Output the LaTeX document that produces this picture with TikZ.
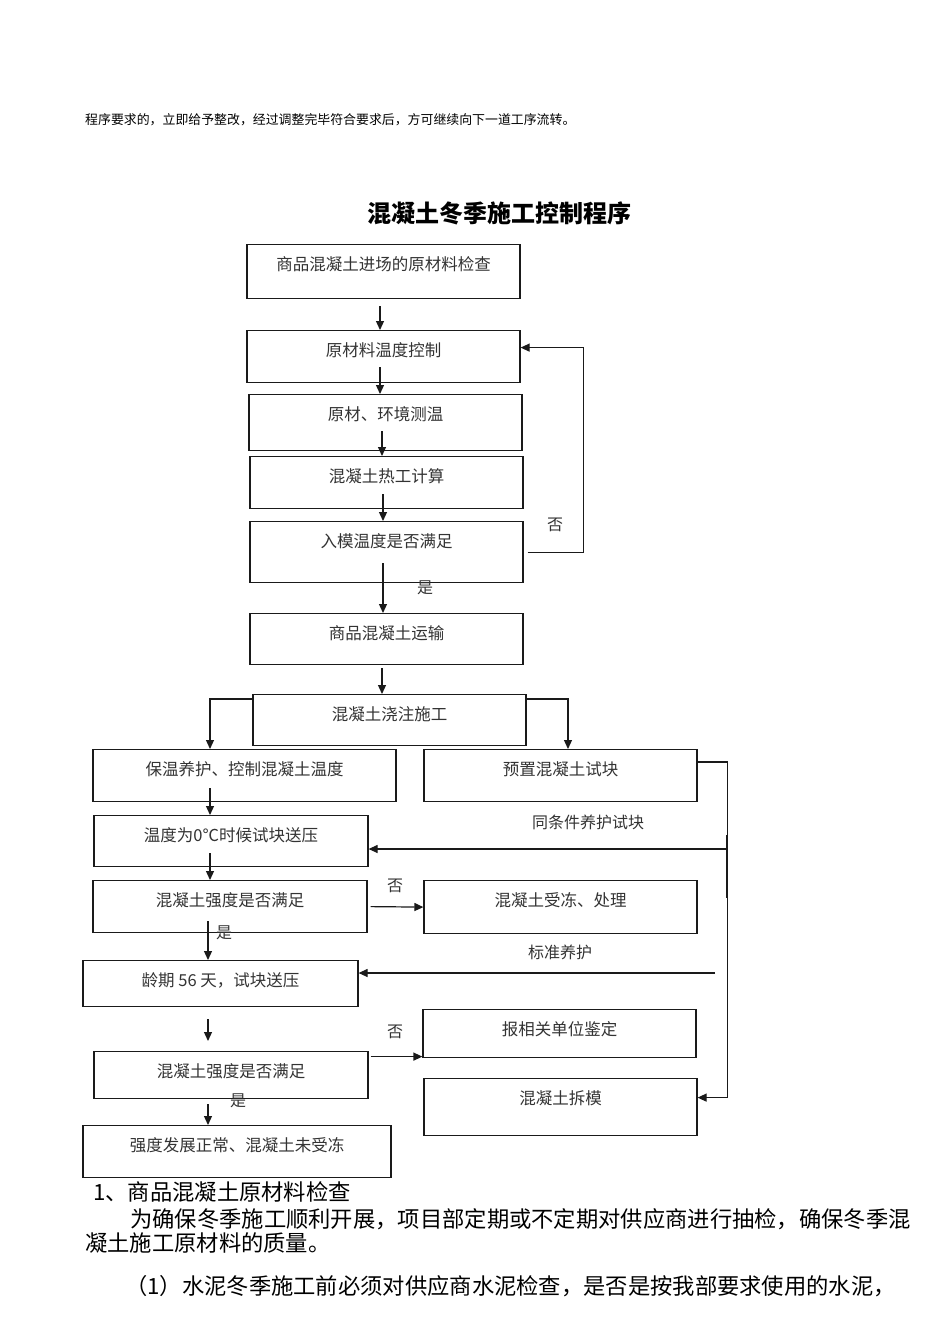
\documentclass[tikz,border=0pt]{standalone}
\usepackage{fontspec}
\setmainfont{Noto Sans CJK SC}
\definecolor{ink}{HTML}{1A1A1A}
\definecolor{txt}{HTML}{333333}
\usetikzlibrary{arrows.meta}

\begin{document}
\begin{tikzpicture}[x=1pt,y=-1pt,>={Triangle[length=9pt,width=8pt]},
  box/.style={draw=ink,line width=1.2pt,rectangle,inner sep=0pt,anchor=north,minimum width=273pt,text height=26pt,text depth=#1,font=\fontsize{16.5}{18}\selectfont,text=txt},
  lbl/.style={font=\fontsize{16}{18}\selectfont,text=txt,inner sep=0pt},
  body/.style={font=\fontsize{22.3}{26}\selectfont,anchor=west,inner sep=0pt},
  arr/.style={->,ink,line width=1.2pt}]
\useasboundingbox (0,0) rectangle (950,1344);
\node[anchor=west,inner sep=0pt,font=\fontsize{12.9}{14}\selectfont] (head) at (85,120) {程序要求的，立即给予整改，经过调整完毕符合要求后，方可继续向下一道工序流转。};
\node[inner sep=0pt,font=\fontsize{24}{28}\selectfont\bfseries] (title) at (499,213) {混凝土冬季施工控制程序};
\node[box=28pt] (A) at (383.5,244) {商品混凝土进场的原材料检查};
\node[box=26pt] (B) at (383.5,330) {原材料温度控制};
\node[box=30pt] (C) at (385.5,394) {原材、环境测温};
\node[box=26pt] (D) at (386.5,456) {混凝土热工计算};
\node[box=35pt] (E) at (386.5,521) {入模温度是否满足};
\node[box=25pt] (F) at (386.5,613) {商品混凝土运输};
\node[box=25pt] (G) at (389.5,694) {混凝土浇注施工};
\node[box=26pt,minimum width=303pt] (H) at (244.5,749) {保温养护、控制混凝土温度};
\node[box=26pt] (I) at (560.5,749) {预置混凝土试块};
\node[box=25pt,minimum width=274pt] (J) at (231,815) {温度为0℃时候试块送压};
\node[box=26pt,minimum width=274pt] (K) at (230,880) {混凝土强度是否满足};
\node[box=27pt] (L) at (560.5,880) {混凝土受冻、处理};
\node[box=20pt,minimum width=275pt] (M) at (220.5,960) {龄期 56 天，试块送压};
\node[box=22pt] (N) at (559.5,1009) {报相关单位鉴定};
\node[box=21pt,minimum width=274pt] (O) at (231,1051) {混凝土强度是否满足};
\node[box=31pt] (P) at (560.5,1078) {混凝土拆模};
\node[box=26pt,minimum width=308pt] (Q) at (237,1125) {强度发展正常、混凝土未受冻};
% main column
\draw[arr] ([xshift=-3.5pt,yshift=-7pt]A.south) -- ([xshift=-3.5pt]B.north);
\draw[arr] ([xshift=-3.5pt,yshift=16pt]B.south) -- ([xshift=-5.5pt]C.north);
\draw[arr] ([xshift=-3.5pt,yshift=20pt]C.south) -- ([xshift=-4.5pt]D.north);
\draw[arr] ([xshift=-3.5pt,yshift=15pt]D.south) -- ([xshift=-3.5pt]E.north);
\draw[arr] ([xshift=-3.5pt,yshift=20pt]E.south) -- ([xshift=-3.5pt]F.north);
\draw[arr] ([xshift=-4.5pt,yshift=-3pt]F.south) -- ([xshift=-7.5pt]G.north);
\draw[arr] ([xshift=4pt]E.east) -- ++(56,0) |- ([yshift=9pt]B.east);
\node[lbl] (no1) at (555,525) {否};
\node[lbl] (yes1) at (425,588) {是};
% split after pouring
\draw[arr] ([yshift=-5pt]G.north west) -| ([xshift=-34.5pt]H.north);
\draw[arr] ([yshift=-5pt]G.north east) -| ([xshift=7.5pt]I.north);
\draw[arr] ([yshift=-13pt]I.north east) -- ++(30,0) |- ([yshift=9.5pt]P.east);
\coordinate (T) at (727,849);
\draw[ink,line width=2.6pt] ([yshift=14pt]T) -- ([yshift=-49pt]T);
\draw[arr] (T) -- (J.east |- T);
\node[lbl] (same) at (588,822) {同条件养护试块};
\coordinate (S) at (715,973);
\draw[arr] (S) -- (M.east |- S);
\node[lbl] (std) at (560,952) {标准养护};
% left column
\draw[arr] ([xshift=-34.5pt,yshift=14pt]H.south) -- ([xshift=-21pt]J.north);
\draw[arr] ([xshift=-21pt,yshift=14pt]J.south) -- ([xshift=-20pt]K.north);
\draw[arr] ([xshift=3pt]K.east) -- (L.west);
\node[lbl] (no2) at (395,886) {否};
\draw[arr] ([xshift=-22pt,yshift=12pt]K.south) -- ([xshift=-12.5pt]M.north);
\node[lbl] (yes2) at (224,933) {是};
\draw[arr] ([xshift=-12.5pt,yshift=-12pt]M.south) -- ([xshift=-23pt,yshift=10pt]O.north);
\draw[arr] ([xshift=2pt,yshift=18.5pt]O.east) -- ([yshift=-23pt]N.west);
\node[lbl] (no3) at (395,1032) {否};
\draw[arr] ([xshift=-23pt,yshift=-5pt]O.south) -- ([xshift=-29pt]Q.north);
\node[lbl] (yes3) at (238,1101) {是};
% text below
\node[body] (sec) at (93,1192) {1、商品混凝土原材料检查};
\node[body] (p1) at (130,1219) {为确保冬季施工顺利开展，项目部定期或不定期对供应商进行抽检，确保冬季混};
\node[body] (p2) at (85,1243) {凝土施工原材料的质量。};
\node[body] (p3) at (125,1286) {（1）水泥冬季施工前必须对供应商水泥检查，是否是按我部要求使用的水泥，};
\end{tikzpicture}
\end{document}
